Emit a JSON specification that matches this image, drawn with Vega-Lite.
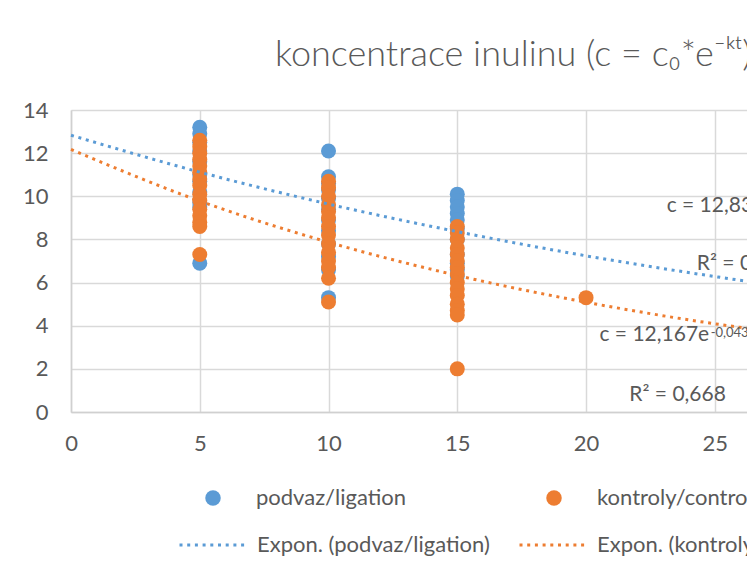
{
  "$schema": "https://vega.github.io/schema/vega-lite/v6.json",
  "autosize": "none",
  "width": 676,
  "height": 302,
  "padding": {"left": 71, "top": 110, "right": 0, "bottom": 161},
  "background": "white",
  "title": {
    "text": "koncentrace inulinu (c = c₀*e⁻ᵏᵗ)",
    "anchor": "start",
    "frame": "group",
    "dx": 204,
    "dy": 38,
    "fontSize": 36,
    "font": "Lato",
    "fontWeight": 300,
    "color": "#595959",
    "baseline": "alphabetic",
    "offset": 35
  },
  "datasets": {
    "points": [
      {"series": "podvaz/ligation", "t": 5, "c": 13.2},
      {"series": "podvaz/ligation", "t": 5, "c": 12.9},
      {"series": "podvaz/ligation", "t": 5, "c": 12.5},
      {"series": "podvaz/ligation", "t": 5, "c": 12.1},
      {"series": "podvaz/ligation", "t": 5, "c": 11.6},
      {"series": "podvaz/ligation", "t": 5, "c": 11.0},
      {"series": "podvaz/ligation", "t": 5, "c": 10.7},
      {"series": "podvaz/ligation", "t": 5, "c": 10.2},
      {"series": "podvaz/ligation", "t": 5, "c": 9.7},
      {"series": "podvaz/ligation", "t": 5, "c": 9.5},
      {"series": "podvaz/ligation", "t": 5, "c": 6.9},
      {"series": "podvaz/ligation", "t": 10, "c": 12.1},
      {"series": "podvaz/ligation", "t": 10, "c": 10.9},
      {"series": "podvaz/ligation", "t": 10, "c": 10.6},
      {"series": "podvaz/ligation", "t": 10, "c": 10.3},
      {"series": "podvaz/ligation", "t": 10, "c": 9.9},
      {"series": "podvaz/ligation", "t": 10, "c": 9.4},
      {"series": "podvaz/ligation", "t": 10, "c": 8.9},
      {"series": "podvaz/ligation", "t": 10, "c": 8.4},
      {"series": "podvaz/ligation", "t": 10, "c": 7.8},
      {"series": "podvaz/ligation", "t": 10, "c": 7.2},
      {"series": "podvaz/ligation", "t": 10, "c": 6.6},
      {"series": "podvaz/ligation", "t": 10, "c": 5.3},
      {"series": "podvaz/ligation", "t": 15, "c": 10.1},
      {"series": "podvaz/ligation", "t": 15, "c": 9.8},
      {"series": "podvaz/ligation", "t": 15, "c": 9.5},
      {"series": "podvaz/ligation", "t": 15, "c": 9.2},
      {"series": "podvaz/ligation", "t": 15, "c": 8.9},
      {"series": "podvaz/ligation", "t": 15, "c": 8.5},
      {"series": "podvaz/ligation", "t": 15, "c": 8.0},
      {"series": "podvaz/ligation", "t": 15, "c": 7.3},
      {"series": "podvaz/ligation", "t": 15, "c": 6.9},
      {"series": "podvaz/ligation", "t": 15, "c": 6.6},
      {"series": "podvaz/ligation", "t": 15, "c": 6.3},
      {"series": "kontroly/controls", "t": 5, "c": 12.6},
      {"series": "kontroly/controls", "t": 5, "c": 12.3},
      {"series": "kontroly/controls", "t": 5, "c": 12.0},
      {"series": "kontroly/controls", "t": 5, "c": 11.7},
      {"series": "kontroly/controls", "t": 5, "c": 11.4},
      {"series": "kontroly/controls", "t": 5, "c": 11.1},
      {"series": "kontroly/controls", "t": 5, "c": 10.8},
      {"series": "kontroly/controls", "t": 5, "c": 10.5},
      {"series": "kontroly/controls", "t": 5, "c": 10.1},
      {"series": "kontroly/controls", "t": 5, "c": 9.8},
      {"series": "kontroly/controls", "t": 5, "c": 9.4},
      {"series": "kontroly/controls", "t": 5, "c": 9.1},
      {"series": "kontroly/controls", "t": 5, "c": 8.8},
      {"series": "kontroly/controls", "t": 5, "c": 8.6},
      {"series": "kontroly/controls", "t": 5, "c": 7.3},
      {"series": "kontroly/controls", "t": 10, "c": 10.7},
      {"series": "kontroly/controls", "t": 10, "c": 10.4},
      {"series": "kontroly/controls", "t": 10, "c": 10.0},
      {"series": "kontroly/controls", "t": 10, "c": 9.6},
      {"series": "kontroly/controls", "t": 10, "c": 9.3},
      {"series": "kontroly/controls", "t": 10, "c": 9.0},
      {"series": "kontroly/controls", "t": 10, "c": 8.6},
      {"series": "kontroly/controls", "t": 10, "c": 8.2},
      {"series": "kontroly/controls", "t": 10, "c": 7.8},
      {"series": "kontroly/controls", "t": 10, "c": 7.4},
      {"series": "kontroly/controls", "t": 10, "c": 7.0},
      {"series": "kontroly/controls", "t": 10, "c": 6.7},
      {"series": "kontroly/controls", "t": 10, "c": 6.2},
      {"series": "kontroly/controls", "t": 10, "c": 5.1},
      {"series": "kontroly/controls", "t": 15, "c": 8.6},
      {"series": "kontroly/controls", "t": 15, "c": 8.3},
      {"series": "kontroly/controls", "t": 15, "c": 8.0},
      {"series": "kontroly/controls", "t": 15, "c": 7.6},
      {"series": "kontroly/controls", "t": 15, "c": 7.3},
      {"series": "kontroly/controls", "t": 15, "c": 7.0},
      {"series": "kontroly/controls", "t": 15, "c": 6.7},
      {"series": "kontroly/controls", "t": 15, "c": 6.4},
      {"series": "kontroly/controls", "t": 15, "c": 6.0},
      {"series": "kontroly/controls", "t": 15, "c": 5.7},
      {"series": "kontroly/controls", "t": 15, "c": 5.4},
      {"series": "kontroly/controls", "t": 15, "c": 5.0},
      {"series": "kontroly/controls", "t": 15, "c": 4.7},
      {"series": "kontroly/controls", "t": 15, "c": 4.5},
      {"series": "kontroly/controls", "t": 15, "c": 2.0},
      {"series": "kontroly/controls", "t": 20, "c": 5.3}
    ],
    "trend": [
      {"series": "Expon. (podvaz/ligation)", "t": 0, "c": 12.83},
      {"series": "Expon. (podvaz/ligation)", "t": 5, "c": 11.12},
      {"series": "Expon. (podvaz/ligation)", "t": 10, "c": 9.64},
      {"series": "Expon. (podvaz/ligation)", "t": 15, "c": 8.36},
      {"series": "Expon. (podvaz/ligation)", "t": 20, "c": 7.24},
      {"series": "Expon. (podvaz/ligation)", "t": 25, "c": 6.28},
      {"series": "Expon. (podvaz/ligation)", "t": 26.25, "c": 6.06},
      {"series": "Expon. (kontroly/controls)", "t": 0, "c": 12.17},
      {"series": "Expon. (kontroly/controls)", "t": 5, "c": 9.78},
      {"series": "Expon. (kontroly/controls)", "t": 10, "c": 7.87},
      {"series": "Expon. (kontroly/controls)", "t": 15, "c": 6.33},
      {"series": "Expon. (kontroly/controls)", "t": 20, "c": 5.09},
      {"series": "Expon. (kontroly/controls)", "t": 25, "c": 4.09},
      {"series": "Expon. (kontroly/controls)", "t": 26.25, "c": 3.88}
    ],
    "labels": [
      {"label": "c = 12,834e", "kind": "eq_blue"},
      {"label": "R² = 0,517", "kind": "r2_blue"},
      {"label": "c = 12,167e", "kind": "eq_orange"},
      {"label": "-0,043t", "kind": "exp_orange"},
      {"label": "R² = 0,668", "kind": "r2_orange"}
    ]
  },
  "layer": [
    {
      "data": {"name": "points"},
      "mark": {"type": "point", "filled": true, "opacity": 1, "size": 225, "shape": "circle"},
      "encoding": {
        "x": {
          "field": "t",
          "type": "quantitative",
          "scale": {"domain": [0, 26.25], "nice": false, "zero": false},
          "axis": {"values": [0, 5, 10, 15, 20, 25], "labelPadding": 21, "labelFlush": false, "grid": true}
        },
        "y": {
          "field": "c",
          "type": "quantitative",
          "scale": {"domain": [0, 14], "nice": false},
          "axis": {"values": [0, 2, 4, 6, 8, 10, 12, 14], "labelPadding": 23, "grid": true}
        },
        "fill": {
          "field": "series",
          "type": "nominal",
          "scale": {"domain": ["podvaz/ligation", "kontroly/controls"], "range": ["#5b9bd5", "#ed7d31"]},
          "legend": {
            "orient": "none",
            "legendX": 131,
            "legendY": 377,
            "direction": "horizontal",
            "title": null,
            "symbolType": "circle",
            "symbolSize": 240,
            "symbolStrokeWidth": 0,
            "symbolOpacity": 1,
            "labelOffset": 32,
            "columnPadding": 136,
            "labelFontSize": 22,
            "labelFont": "Lato",
            "labelColor": "#595959",
            "labelLimit": 400,
            "padding": 0
          }
        }
      }
    },
    {
      "data": {"name": "trend"},
      "mark": {"type": "line", "strokeWidth": 3, "strokeDash": [3, 4.7], "interpolate": "monotone"},
      "encoding": {
        "x": {
          "field": "t",
          "type": "quantitative",
          "scale": {"domain": [0, 26.25], "nice": false, "zero": false},
          "axis": {"values": [0, 5, 10, 15, 20, 25], "labelPadding": 21, "labelFlush": false, "grid": true}
        },
        "y": {
          "field": "c",
          "type": "quantitative",
          "scale": {"domain": [0, 14], "nice": false},
          "axis": {"values": [0, 2, 4, 6, 8, 10, 12, 14], "labelPadding": 23, "grid": true}
        },
        "stroke": {
          "field": "series",
          "type": "nominal",
          "scale": {"domain": ["Expon. (podvaz/ligation)", "Expon. (kontroly/controls)"], "range": ["#5b9bd5", "#ed7d31"]},
          "legend": {
            "orient": "none",
            "legendX": 107,
            "legendY": 400,
            "direction": "horizontal",
            "title": null,
            "symbolType": "stroke",
            "symbolSize": 4489,
            "symbolStrokeWidth": 3,
            "symbolDash": [3, 4.7],
            "labelOffset": 9,
            "columnPadding": 23,
            "labelFontSize": 22,
            "labelFont": "Lato",
            "labelColor": "#595959",
            "labelLimit": 400,
            "padding": 0
          }
        }
      }
    },
    {
      "data": {"name": "labels"},
      "transform": [{"filter": "datum.kind === 'eq_blue'"}],
      "mark": {"type": "text", "align": "left", "baseline": "alphabetic", "fontSize": 21, "font": "Lato", "color": "#595959"},
      "encoding": {"x": {"datum": 23.13, "type": "quantitative", "scale": {"domain": [0, 26.25], "nice": false, "zero": false}}, "y": {"datum": 9.26, "type": "quantitative", "scale": {"domain": [0, 14], "nice": false}}, "text": {"field": "label", "type": "nominal"}}
    },
    {
      "data": {"name": "labels"},
      "transform": [{"filter": "datum.kind === 'r2_blue'"}],
      "mark": {"type": "text", "align": "left", "baseline": "alphabetic", "fontSize": 21, "font": "Lato", "color": "#595959"},
      "encoding": {"x": {"datum": 24.3, "type": "quantitative", "scale": {"domain": [0, 26.25], "nice": false, "zero": false}}, "y": {"datum": 6.57, "type": "quantitative", "scale": {"domain": [0, 14], "nice": false}}, "text": {"field": "label", "type": "nominal"}}
    },
    {
      "data": {"name": "labels"},
      "transform": [{"filter": "datum.kind === 'eq_orange'"}],
      "mark": {"type": "text", "align": "left", "baseline": "alphabetic", "fontSize": 21, "font": "Lato", "color": "#595959"},
      "encoding": {"x": {"datum": 20.52, "type": "quantitative", "scale": {"domain": [0, 26.25], "nice": false, "zero": false}}, "y": {"datum": 3.28, "type": "quantitative", "scale": {"domain": [0, 14], "nice": false}}, "text": {"field": "label", "type": "nominal"}}
    },
    {
      "data": {"name": "labels"},
      "transform": [{"filter": "datum.kind === 'exp_orange'"}],
      "mark": {"type": "text", "align": "left", "baseline": "alphabetic", "fontSize": 13, "font": "Lato", "color": "#595959"},
      "encoding": {"x": {"datum": 24.84, "type": "quantitative", "scale": {"domain": [0, 26.25], "nice": false, "zero": false}}, "y": {"datum": 3.5, "type": "quantitative", "scale": {"domain": [0, 14], "nice": false}}, "text": {"field": "label", "type": "nominal"}}
    },
    {
      "data": {"name": "labels"},
      "transform": [{"filter": "datum.kind === 'r2_orange'"}],
      "mark": {"type": "text", "align": "left", "baseline": "alphabetic", "fontSize": 21, "font": "Lato", "color": "#595959"},
      "encoding": {"x": {"datum": 21.68, "type": "quantitative", "scale": {"domain": [0, 26.25], "nice": false, "zero": false}}, "y": {"datum": 0.5, "type": "quantitative", "scale": {"domain": [0, 14], "nice": false}}, "text": {"field": "label", "type": "nominal"}}
    }
  ],
  "config": {
    "view": {"stroke": null},
    "font": "Lato",
    "axis": {
      "title": null,
      "ticks": false,
      "labelFont": "Lato",
      "labelFontSize": 22,
      "labelColor": "#595959",
      "domainColor": "#d0d0d0",
      "domainWidth": 1.5,
      "gridColor": "#d9d9d9",
      "gridWidth": 1.5
    }
  }
}
